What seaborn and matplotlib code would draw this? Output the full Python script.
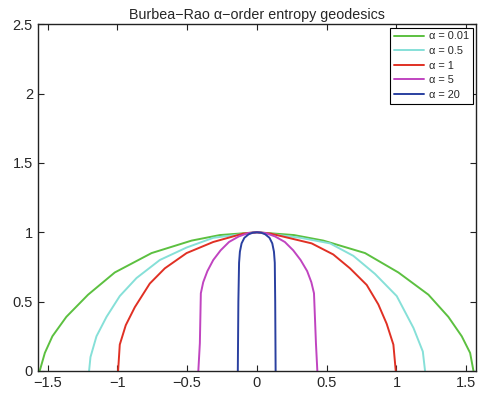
import pandas as pd
import seaborn as sns
import matplotlib.pyplot as plt

# geodesic curves, one (x, y) list per alpha
labels = ['\u03b1 = 0.01', '\u03b1 = 0.5', '\u03b1 = 1', '\u03b1 = 5', '\u03b1 = 20']
colors = ['#5cc040', '#86e0d8', '#e03024', '#c044c0', '#2a40a0']

x_a001 = [-1.557, -1.52, -1.466, -1.366, -1.21, -1.019, -0.755, -0.468, -0.265, 0.0,
          0.265, 0.476, 0.775, 1.014, 1.229, 1.372, 1.468, 1.528, 1.552]
y_a001 = [0.0, 0.13, 0.25, 0.39, 0.55, 0.71, 0.85, 0.94, 0.98, 1.0,
          0.98, 0.94, 0.85, 0.71, 0.55, 0.39, 0.25, 0.13, 0.0]

x_a05 = [-1.203, -1.193, -1.15, -1.078, -0.983, -0.863, -0.696, -0.504, -0.313, 0.0,
         0.313, 0.524, 0.691, 0.846, 1.002, 1.122, 1.189, 1.205]
y_a05 = [0.0, 0.10, 0.25, 0.39, 0.54, 0.67, 0.80, 0.89, 0.96, 1.0,
         0.96, 0.92, 0.83, 0.70, 0.54, 0.31, 0.14, 0.0]

x_a1 = [-0.995, -0.983, -0.94, -0.875, -0.768, -0.66, -0.504, -0.313, -0.1, 0.0,
        0.1, 0.392, 0.547, 0.667, 0.787, 0.87, 0.93, 0.978, 0.995]
y_a1 = [0.0, 0.19, 0.33, 0.46, 0.63, 0.74, 0.85, 0.93, 0.99, 1.0,
        0.99, 0.92, 0.84, 0.74, 0.62, 0.48, 0.34, 0.19, 0.0]

x_a5 = [-0.42, -0.409, -0.402, -0.385, -0.355, -0.313, -0.26, -0.2, -0.13, -0.06, 0.0,
        0.06, 0.13, 0.2, 0.26, 0.313, 0.36, 0.39, 0.409, 0.423, 0.433]
y_a5 = [0.0, 0.20, 0.56, 0.64, 0.72, 0.80, 0.87, 0.93, 0.97, 0.995, 1.0,
        0.995, 0.97, 0.93, 0.87, 0.80, 0.72, 0.64, 0.56, 0.20, 0.0]

x_a20 = [-0.137, -0.133, -0.128, -0.122, -0.11, -0.09, -0.06, -0.03, 0.0,
         0.03, 0.06, 0.09, 0.11, 0.122, 0.128, 0.131, 0.134]
y_a20 = [0.0, 0.5, 0.78, 0.86, 0.92, 0.96, 0.985, 0.997, 1.0,
         0.997, 0.985, 0.96, 0.92, 0.86, 0.78, 0.5, 0.0]

xs = [x_a001, x_a05, x_a1, x_a5, x_a20]
ys = [y_a001, y_a05, y_a1, y_a5, y_a20]

frames = []
for lab, x, y in zip(labels, xs, ys):
    frames.append(pd.DataFrame({'x': x, 'y': y, 'alpha': lab}))
df = pd.concat(frames, ignore_index=True)

sns.set_style('ticks')
plt.rcParams['font.family'] = ['Liberation Sans', 'DejaVu Sans']

fig = plt.figure(figsize=(4.78, 3.98), dpi=100)
ax = fig.add_axes([0.079, 0.068, 0.917, 0.871])
sns.lineplot(data=df, x='x', y='y', hue='alpha', hue_order=labels,
             palette=colors, sort=False, estimator=None, linewidth=1.4, ax=ax)

ax.set_xlim(-1.5708, 1.5708)
ax.set_ylim(0, 2.5)
xt = [-1.5, -1, -0.5, 0, 0.5, 1, 1.5]
yt = [0, 0.5, 1, 1.5, 2, 2.5]
ax.set_xticks(xt)
ax.set_xticklabels(['\u22121.5', '\u22121', '\u22120.5', '0', '0.5', '1', '1.5'])
ax.set_yticks(yt)
ax.set_yticklabels(['0', '0.5', '1', '1.5', '2', '2.5'])
ax.tick_params(direction='in', top=True, right=True, labelsize=10.5, length=4, width=0.8, color='#222222')
for s in ax.spines.values():
    s.set_linewidth(1.0)
    s.set_color('#222222')
ax.set_xlabel('')
ax.set_ylabel('')
ax.set_title('Burbea\u2212Rao \u03b1\u2212order entropy geodesics', fontsize=10.3, pad=4)

leg = ax.legend(loc='upper right', fontsize=7.9, frameon=True, fancybox=False,
                edgecolor='black', framealpha=1, borderaxespad=0.3, handlelength=2.8,
                labelspacing=0.42, borderpad=0.35, handletextpad=0.4)
leg.get_frame().set_linewidth(0.8)

fig.savefig('out.png', dpi=100)
